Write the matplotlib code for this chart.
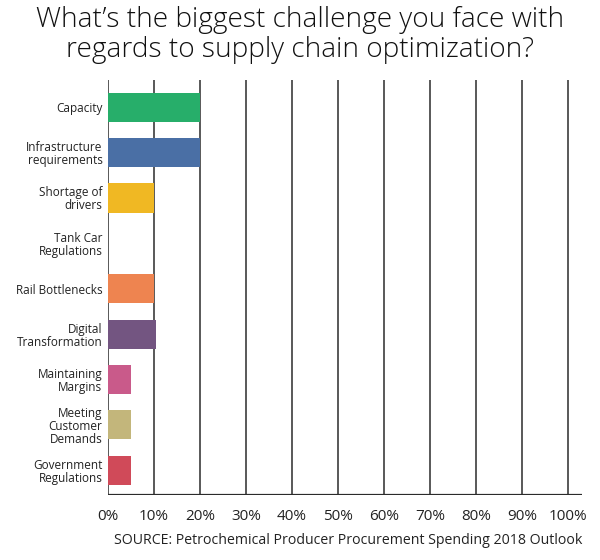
import matplotlib.pyplot as plt

plt.rcParams['font.family'] = ['Open Sans', 'DejaVu Sans']

categories = ["Capacity", "Infrastructure\nrequirements", "Shortage of\ndrivers",
              "Tank Car\nRegulations", "Rail Bottlenecks", "Digital\nTransformation",
              "Maintaining\nMargins", "Meeting\nCustomer\nDemands", "Government\nRegulations"]
values = [20, 20, 10, 0, 10, 10.5, 5, 5, 5]
colors = ["#27ae6a", "#4a6fa5", "#f0b823", "#f0b823", "#ee8450", "#735581",
          "#c95a8a", "#c3b67b", "#d04a59"]
ticks = list(range(0, 101, 10))
tick_labels = [str(t) + "%" for t in ticks]

fig = plt.figure(figsize=(6, 5.6), dpi=100)
ax = fig.add_axes([0.18, 0.116, 0.79, 0.741])

ypos = list(range(len(categories)))
ax.barh(ypos, values, height=0.64, color=colors, zorder=3)

# vertical grid lines
for t in ticks:
    ax.axvline(t, color="#2b2b2b", lw=1.1, zorder=2)
ax.axhline(8.55, color="#2b2b2b", lw=1.6, zorder=4)

ax.set_xlim(0, 103)
ax.set_ylim(8.55, -0.6)
ax.set_yticks(ypos)
ax.set_yticklabels(categories, fontsize=8.5, color="#222222", linespacing=1.0)
ax.set_xticks(ticks)
ax.set_xticklabels(tick_labels, fontsize=11, color="#222222")
ax.tick_params(length=0, axis="y", pad=4)
ax.tick_params(length=0, axis="x", pad=10)
for s in ax.spines.values():
    s.set_visible(False)

fig.text(0.5, 0.99, "What’s the biggest challenge you face with\nregards to supply chain optimization?",
         ha="center", va="top", fontsize=20.2, color="#111111", linespacing=1.1,
         fontweight="light")
fig.text(0.97, 0.035, "SOURCE: Petrochemical Producer Procurement Spending 2018 Outlook",
         ha="right", va="center", fontsize=10.2, color="#222222")

fig.savefig("out.png", dpi=100)
